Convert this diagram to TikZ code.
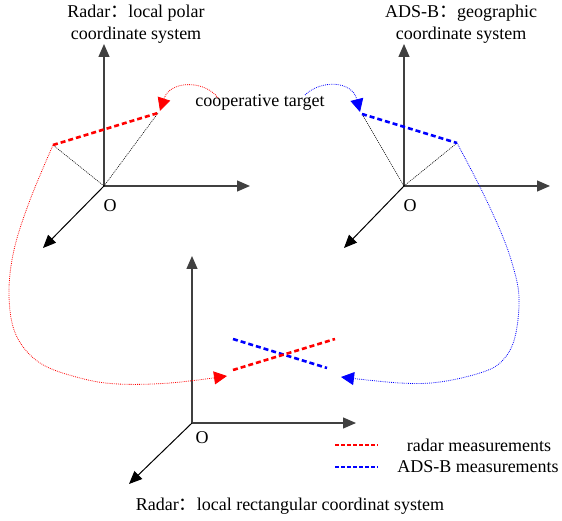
\documentclass[tikz,border=0pt]{standalone}
\usepackage{fontspec}
\setmainfont{Liberation Serif}
\newfontfamily\cjk{Noto Sans CJK SC}
\usetikzlibrary{arrows.meta}
\newcommand{\fwc}{{\cjk ：}}
\tikzset{
  lbl/.style={inner sep=0pt, font=\fontsize{18}{22}\selectfont},
  axis/.style={line width=1.2pt, black!75, -{Triangle[length=13pt,width=11pt]}},
  diag/.style={line width=1pt, black, -{Triangle[length=13pt,width=11pt]}},
  proj/.style={line width=0.6pt, black, dash pattern=on 1pt off 1pt},
  redmeas/.style={line width=2.6pt, red, dash pattern=on 5pt off 3pt},
  bluemeas/.style={line width=2.6pt, blue, dash pattern=on 5pt off 3pt},
  redlink/.style={line width=0.8pt, red, dash pattern=on 0.8pt off 1.1pt, -{Triangle[length=13pt,width=13pt]}},
  bluelink/.style={line width=0.8pt, blue, dash pattern=on 0.8pt off 1.1pt, -{Triangle[length=13pt,width=13pt]}},
  legred/.style={line width=2pt, red, dash pattern=on 3.5pt off 2.5pt},
  legblue/.style={line width=2pt, blue, dash pattern=on 3.5pt off 2.5pt},
}
\begin{document}
\begin{tikzpicture}[x=1pt,y=-1pt]
\useasboundingbox (0,0) rectangle (562,521);
% ---------- left: radar polar ----------
\coordinate (O1) at (104,186);
\coordinate (O1z) at (104,44);
\coordinate (O1x) at (250,186);
\coordinate (O1y) at (43,248);
\coordinate (R1a) at (53,145);
\coordinate (R1b) at (158,113);
\draw[axis] (O1) -- (O1z);
\draw[axis] (O1) -- (O1x);
\draw[diag] (O1) -- (O1y);
\draw[proj] (O1) -- (R1a);
\draw[proj] (O1) -- (R1b);
\draw[redmeas] (R1a) -- (R1b);
\node[lbl] (o1lab) at (110,206) {O};
\node[lbl, align=center] (t1) at (136,24) {Radar\fwc local polar\\coordinate system};
% ---------- right: ADS-B geographic ----------
\coordinate (O2) at (404,186);
\coordinate (O2z) at (404,44);
\coordinate (O2x) at (550,186);
\coordinate (O2y) at (344,248);
\coordinate (B1a) at (362,114);
\coordinate (B1b) at (457,143);
\draw[axis] (O2) -- (O2z);
\draw[axis] (O2) -- (O2x);
\draw[diag] (O2) -- (O2y);
\draw[proj] (O2) -- (B1a);
\draw[proj] (O2) -- (B1b);
\draw[bluemeas] (B1a) -- (B1b);
\node[lbl] (o2lab) at (410,206) {O};
\node[lbl, align=center] (t2) at (461,24) {ADS-B\fwc geographic\\coordinate system};
% ---------- cooperative target ----------
\node[lbl] (ct) at (260,102) {cooperative target};
\coordinate (ctl) at (218,98);
\coordinate (ctr) at (305,95);
\draw[redlink] (ctl) .. controls (205,80) and (170,80) .. (160,111);
\draw[bluelink] (ctr) .. controls (320,80) and (352,80) .. (360,112);
% ---------- bottom: radar rectangular ----------
\coordinate (O3) at (192,423);
\coordinate (O3z) at (192,256);
\coordinate (O3x) at (356,423);
\coordinate (O3y) at (129,484);
\coordinate (R2a) at (233,370);
\coordinate (R2b) at (335,339);
\coordinate (B2a) at (233,339);
\coordinate (B2b) at (327,368);
\draw[axis] (O3) -- (O3z);
\draw[axis] (O3) -- (O3x);
\draw[diag] (O3) -- (O3y);
\draw[bluemeas] (B2a) -- (B2b);
\draw[redmeas] (R2a) -- (R2b);
\node[lbl] (o3lab) at (202,438) {O};
\node[lbl] (t3) at (290,506) {Radar\fwc local rectangular coordinat system};
% ---------- long links ----------
\coordinate (rt) at (227,376);
\coordinate (bt) at (341,377);
\draw[redlink] plot[smooth, tension=0.6] coordinates {(R1a) (30,200) (14,250) (9,295) (16,335) (40,363) (80,378) (118,384) (170,383) (rt)};
\draw[bluelink] plot[smooth, tension=0.6] coordinates {(B1b) (480,187) (500,230) (512,263) (519,297) (515,337) (503,360) (483,372) (440,382) (400,383) (bt)};
% ---------- legend ----------
\coordinate (l1a) at (335,445);
\coordinate (l1b) at (378,445);
\coordinate (l2a) at (335,467);
\coordinate (l2b) at (378,467);
\draw[legred] (l1a) -- (l1b);
\draw[legblue] (l2a) -- (l2b);
\node[lbl] (leg1) at (479,445) {radar measurements};
\node[lbl] (leg2) at (478,467) {ADS-B measurements};
\end{tikzpicture}
\end{document}
